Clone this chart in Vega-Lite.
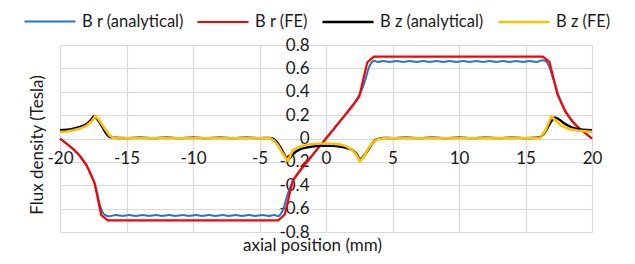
{
  "$schema": "https://vega.github.io/schema/vega-lite/v6.json",
  "width": 532,
  "height": 187,
  "autosize": "none",
  "padding": {"left": 60, "top": 45, "right": 43, "bottom": 32},
  "background": "white",
  "config": {
    "font": "Lato",
    "view": {"stroke": null},
    "axis": {"gridColor": "#d9d9d9", "gridWidth": 1.2, "domain": false, "ticks": false, "labelFontSize": 17, "labelColor": "#1a1a1a", "titleFontSize": 17, "titleFontWeight": "normal", "titleColor": "#1a1a1a", "labelFlush": false, "labelOverlap": false, "labelBound": false},
    "legend": {"labelFontSize": 16.5, "labelColor": "#1a1a1a", "padding": 0}
  },
  "datasets": {
    "br_an": [
      {"x": -20, "y": 0}, {"x": -19.5, "y": -0.045}, {"x": -19, "y": -0.09}, {"x": -18.5, "y": -0.15}, {"x": -18, "y": -0.23},
      {"x": -17.5, "y": -0.355}, {"x": -17.2, "y": -0.47}, {"x": -17, "y": -0.57}, {"x": -16.8, "y": -0.63}, {"x": -16.6, "y": -0.655},
      {"x": -16.3, "y": -0.665}, {"x": -15.8, "y": -0.655}, {"x": -15.3, "y": -0.663}, {"x": -14.8, "y": -0.655}, {"x": -14.3, "y": -0.663},
      {"x": -13.8, "y": -0.655}, {"x": -13.3, "y": -0.663}, {"x": -12.8, "y": -0.655}, {"x": -12.3, "y": -0.663}, {"x": -11.8, "y": -0.655},
      {"x": -11.3, "y": -0.663}, {"x": -10.8, "y": -0.655}, {"x": -10.3, "y": -0.663}, {"x": -9.8, "y": -0.655}, {"x": -9.3, "y": -0.663},
      {"x": -8.8, "y": -0.655}, {"x": -8.3, "y": -0.663}, {"x": -7.8, "y": -0.655}, {"x": -7.3, "y": -0.663}, {"x": -6.8, "y": -0.655},
      {"x": -6.3, "y": -0.663}, {"x": -5.8, "y": -0.655}, {"x": -5.3, "y": -0.663}, {"x": -4.8, "y": -0.655}, {"x": -4.3, "y": -0.663},
      {"x": -3.9, "y": -0.655}, {"x": -3.6, "y": -0.665}, {"x": -3.4, "y": -0.645}, {"x": -3.2, "y": -0.6}, {"x": -3, "y": -0.52},
      {"x": -2.8, "y": -0.45}, {"x": -2.5, "y": -0.37}, {"x": -2, "y": -0.285}, {"x": -1.5, "y": -0.21}, {"x": -1, "y": -0.14},
      {"x": -0.5, "y": -0.07}, {"x": 0, "y": 0}, {"x": 0.5, "y": 0.07}, {"x": 1, "y": 0.14}, {"x": 1.5, "y": 0.21},
      {"x": 2, "y": 0.285}, {"x": 2.5, "y": 0.37}, {"x": 2.8, "y": 0.45}, {"x": 3, "y": 0.52}, {"x": 3.2, "y": 0.6},
      {"x": 3.4, "y": 0.645}, {"x": 3.6, "y": 0.665}, {"x": 3.9, "y": 0.655}, {"x": 4.3, "y": 0.663}, {"x": 4.8, "y": 0.655},
      {"x": 5.3, "y": 0.663}, {"x": 5.8, "y": 0.655}, {"x": 6.3, "y": 0.663}, {"x": 6.8, "y": 0.655}, {"x": 7.3, "y": 0.663},
      {"x": 7.8, "y": 0.655}, {"x": 8.3, "y": 0.663}, {"x": 8.8, "y": 0.655}, {"x": 9.3, "y": 0.663}, {"x": 9.8, "y": 0.655},
      {"x": 10.3, "y": 0.663}, {"x": 10.8, "y": 0.655}, {"x": 11.3, "y": 0.663}, {"x": 11.8, "y": 0.655}, {"x": 12.3, "y": 0.663},
      {"x": 12.8, "y": 0.655}, {"x": 13.3, "y": 0.663}, {"x": 13.8, "y": 0.655}, {"x": 14.3, "y": 0.663}, {"x": 14.8, "y": 0.655},
      {"x": 15.3, "y": 0.663}, {"x": 15.8, "y": 0.655}, {"x": 16.3, "y": 0.67}, {"x": 16.6, "y": 0.655}, {"x": 16.8, "y": 0.61},
      {"x": 17, "y": 0.54}, {"x": 17.2, "y": 0.47}, {"x": 17.5, "y": 0.36}, {"x": 18, "y": 0.235}, {"x": 18.5, "y": 0.15},
      {"x": 19, "y": 0.09}, {"x": 19.5, "y": 0.045}, {"x": 20, "y": 0}
    ],
    "br_fe": [
      {"x": -20, "y": 0}, {"x": -19.5, "y": -0.045}, {"x": -19, "y": -0.09}, {"x": -18.5, "y": -0.15}, {"x": -18, "y": -0.23},
      {"x": -17.4, "y": -0.38}, {"x": -16.9, "y": -0.655}, {"x": -16.4, "y": -0.7}, {"x": -3.6, "y": -0.7}, {"x": -3.1, "y": -0.65},
      {"x": -2.5, "y": -0.36}, {"x": -2, "y": -0.28}, {"x": -1.5, "y": -0.21}, {"x": -1, "y": -0.14}, {"x": -0.5, "y": -0.07},
      {"x": 0, "y": 0}, {"x": 0.5, "y": 0.07}, {"x": 1, "y": 0.14}, {"x": 1.5, "y": 0.21}, {"x": 2, "y": 0.28},
      {"x": 2.5, "y": 0.36}, {"x": 3.1, "y": 0.65}, {"x": 3.6, "y": 0.7}, {"x": 16.3, "y": 0.7}, {"x": 16.8, "y": 0.655},
      {"x": 17.4, "y": 0.38}, {"x": 18, "y": 0.23}, {"x": 18.5, "y": 0.15}, {"x": 19, "y": 0.09}, {"x": 19.5, "y": 0.045},
      {"x": 20, "y": 0}
    ],
    "bz_an": [
      {"x": -20, "y": 0.07}, {"x": -19.5, "y": 0.075}, {"x": -19, "y": 0.085}, {"x": -18.5, "y": 0.1}, {"x": -18, "y": 0.125},
      {"x": -17.7, "y": 0.155}, {"x": -17.45, "y": 0.19}, {"x": -17.2, "y": 0.165}, {"x": -16.9, "y": 0.115}, {"x": -16.6, "y": 0.055},
      {"x": -16.3, "y": 0.015}, {"x": -16, "y": 0.006}, {"x": -15, "y": 0.003}, {"x": -14, "y": 0.007}, {"x": -13, "y": 0.003},
      {"x": -12, "y": 0.007}, {"x": -11, "y": 0.003}, {"x": -10, "y": 0.007}, {"x": -9, "y": 0.003}, {"x": -8, "y": 0.007},
      {"x": -7, "y": 0.003}, {"x": -6, "y": 0.007}, {"x": -5, "y": 0.003}, {"x": -4.3, "y": 0.005}, {"x": -4, "y": -0.002},
      {"x": -3.7, "y": -0.03}, {"x": -3.4, "y": -0.08}, {"x": -3.1, "y": -0.145}, {"x": -2.85, "y": -0.18}, {"x": -2.6, "y": -0.15},
      {"x": -2.3, "y": -0.115}, {"x": -2, "y": -0.095}, {"x": -1.5, "y": -0.078}, {"x": -1, "y": -0.068}, {"x": -0.5, "y": -0.063},
      {"x": 0, "y": -0.062}, {"x": 0.5, "y": -0.063}, {"x": 1, "y": -0.068}, {"x": 1.5, "y": -0.08}, {"x": 2, "y": -0.1},
      {"x": 2.3, "y": -0.13}, {"x": 2.55, "y": -0.175}, {"x": 2.8, "y": -0.155}, {"x": 3.1, "y": -0.11}, {"x": 3.4, "y": -0.055},
      {"x": 3.7, "y": -0.015}, {"x": 4, "y": -0.001}, {"x": 4.3, "y": 0.005}, {"x": 5, "y": 0.003}, {"x": 6, "y": 0.007},
      {"x": 7, "y": 0.003}, {"x": 8, "y": 0.007}, {"x": 9, "y": 0.003}, {"x": 10, "y": 0.007}, {"x": 11, "y": 0.003},
      {"x": 12, "y": 0.007}, {"x": 13, "y": 0.003}, {"x": 14, "y": 0.007}, {"x": 15, "y": 0.003}, {"x": 16, "y": 0.008},
      {"x": 16.3, "y": 0.03}, {"x": 16.6, "y": 0.08}, {"x": 16.9, "y": 0.14}, {"x": 17.2, "y": 0.18}, {"x": 17.5, "y": 0.165},
      {"x": 17.8, "y": 0.14}, {"x": 18.3, "y": 0.105}, {"x": 18.8, "y": 0.085}, {"x": 19.3, "y": 0.075}, {"x": 20, "y": 0.07}
    ],
    "bz_fe": [
      {"x": -20, "y": 0.055}, {"x": -19.5, "y": 0.06}, {"x": -19, "y": 0.07}, {"x": -18.5, "y": 0.085}, {"x": -18, "y": 0.11},
      {"x": -17.6, "y": 0.15}, {"x": -17.35, "y": 0.19}, {"x": -17.1, "y": 0.165}, {"x": -16.7, "y": 0.095}, {"x": -16.3, "y": 0.03},
      {"x": -16, "y": 0.005}, {"x": -15, "y": 0.002}, {"x": -10, "y": 0.002}, {"x": -4.2, "y": 0.002}, {"x": -3.9, "y": -0.02},
      {"x": -3.6, "y": -0.06}, {"x": -3.3, "y": -0.12}, {"x": -3, "y": -0.17}, {"x": -2.85, "y": -0.19}, {"x": -2.5, "y": -0.1},
      {"x": -2, "y": -0.07}, {"x": -1.5, "y": -0.055}, {"x": -1, "y": -0.047}, {"x": -0.5, "y": -0.043}, {"x": 0, "y": -0.043},
      {"x": 0.5, "y": -0.045}, {"x": 1, "y": -0.05}, {"x": 1.5, "y": -0.065}, {"x": 2, "y": -0.1}, {"x": 2.3, "y": -0.14},
      {"x": 2.55, "y": -0.195}, {"x": 2.9, "y": -0.145}, {"x": 3.2, "y": -0.08}, {"x": 3.6, "y": -0.025}, {"x": 3.95, "y": -0.005},
      {"x": 4.3, "y": 0.002}, {"x": 10, "y": 0.002}, {"x": 16.1, "y": 0.004}, {"x": 16.5, "y": 0.07}, {"x": 16.95, "y": 0.19},
      {"x": 17.2, "y": 0.16}, {"x": 17.7, "y": 0.11}, {"x": 18.3, "y": 0.08}, {"x": 18.9, "y": 0.068}, {"x": 19.5, "y": 0.062},
      {"x": 20, "y": 0.058}
    ]
  },
  "encoding": {
    "x": {"field": "x", "type": "quantitative",
      "scale": {"domain": [-20, 20], "nice": false},
      "axis": {"values": [-20, -15, -10, -5, 0, 5, 10, 15, 20], "offset": -93.5, "labelPadding": 12, "labelExpr": "toString(datum.value)",
        "title": "axial position (mm)", "titleX": 252, "titleY": 112, "titleBaseline": "alphabetic", "titleAlign": "center", "titleAnchor": null}},
    "y": {"field": "y", "type": "quantitative",
      "scale": {"domain": [-0.8, 0.8], "nice": false},
      "axis": {"values": [-0.8, -0.6, -0.4, -0.2, 0, 0.2, 0.4, 0.6, 0.8], "offset": -266, "labelPadding": 17, "labelExpr": "datum.value == 0 ? '0' : toString(round(datum.value * 10) / 10)",
        "title": "Flux density (Tesla)", "titleX": -289, "titleY": 99.5, "titleBaseline": "middle", "titleAlign": "center", "titleAngle": -90, "titleAnchor": null}}
  },
  "layer": [
    {"data": {"name": "br_an"}, "mark": {"type": "line", "interpolate": "monotone"},
      "encoding": {"color": {"datum": "B r (analytical)"}, "strokeWidth": {"datum": "B r (analytical)"}}},
    {"data": {"name": "br_fe"}, "mark": {"type": "line"},
      "encoding": {"color": {"datum": "B r (FE)"}, "strokeWidth": {"datum": "B r (FE)"}}},
    {"data": {"name": "bz_an"}, "mark": {"type": "line", "interpolate": "monotone"},
      "encoding": {"color": {"datum": "B z (analytical)"}, "strokeWidth": {"datum": "B z (analytical)"}}},
    {"data": {"name": "bz_fe"}, "mark": {"type": "line"},
      "encoding": {
        "color": {"datum": "B z (FE)", "type": "nominal",
          "scale": {"domain": ["B r (analytical)", "B r (FE)", "B z (analytical)", "B z (FE)"], "range": ["#1f78c8", "#ff0000", "#000000", "#ffc000"]},
          "legend": {"title": null, "orient": "none", "legendX": -37, "legendY": -50, "direction": "horizontal", "columns": 4, "columnPadding": 9, "symbolType": "stroke", "symbolSize": 2601, "labelOffset": 5, "gridAlign": "none"}},
        "strokeWidth": {"datum": "B z (FE)", "type": "nominal",
          "scale": {"domain": ["B r (analytical)", "B r (FE)", "B z (analytical)", "B z (FE)"], "range": [2, 2.6, 4, 2.6]},
          "legend": {"title": null, "orient": "none", "legendX": -37, "legendY": -50, "direction": "horizontal", "columns": 4, "columnPadding": 9, "symbolType": "stroke", "symbolSize": 2601, "labelOffset": 5, "gridAlign": "none"}}}}
  ]
}
